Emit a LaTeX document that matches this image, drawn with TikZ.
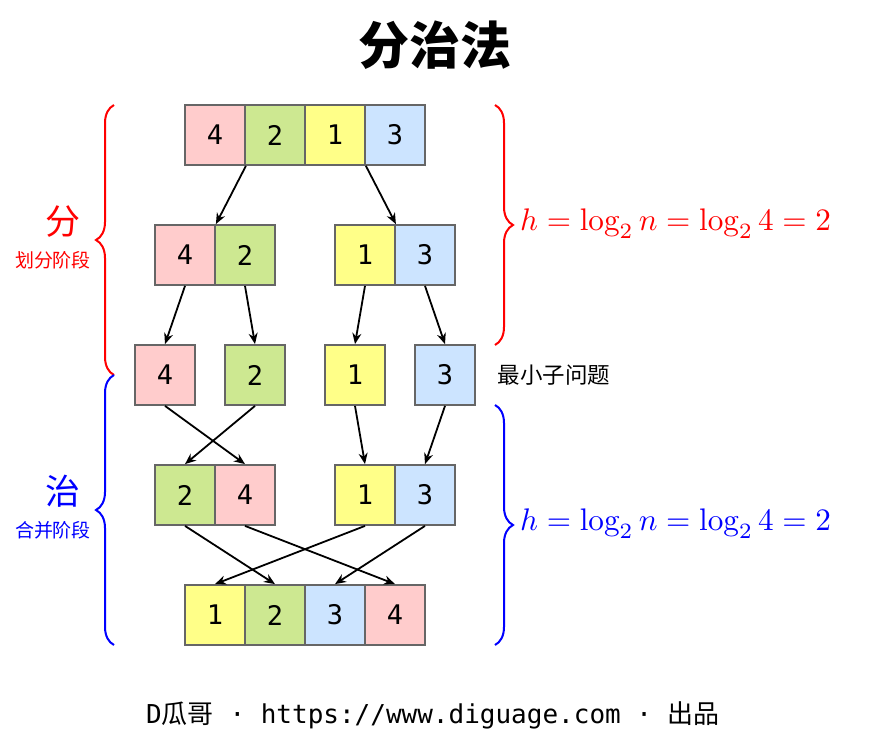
\documentclass[tikz,border=0pt]{standalone}
\usepackage{fontspec}
\newfontfamily\cjk{Noto Sans CJK SC}
\newfontfamily\mono{DejaVu Sans Mono}
\usetikzlibrary{arrows.meta,decorations.pathreplacing}

\definecolor{cellred}{RGB}{255,204,204}
\definecolor{cellgreen}{RGB}{205,232,145}
\definecolor{cellyellow}{RGB}{255,255,136}
\definecolor{cellblue}{RGB}{204,228,255}
\definecolor{cellborder}{RGB}{102,102,102}

\tikzset{
  cell/.style={draw=cellborder, line width=1.8pt, minimum size=60pt, inner sep=0pt,
    font=\fontsize{27}{30}\selectfont\mono},
  link/.style={-{Stealth[length=11pt,width=9pt]}, line width=1.8pt},
  bracket/.style={decorate, decoration={brace, amplitude=18pt}, line width=2pt},
}

\begin{document}
\begin{tikzpicture}[x=1pt, y=-1pt]
  \useasboundingbox (0,0) rectangle (870,745);

  % Title
  \node[font=\fontsize{51}{55}\selectfont\cjk\bfseries] (title) at (435,45) {分治法};

  % Rows of cells
  \foreach \x/\v/\c [count=\i] in {215/4/cellred, 275/2/cellgreen, 335/1/cellyellow, 395/3/cellblue}
    \node[cell, fill=\c] (a\i) at (\x,135) {\v};
  \foreach \x/\v/\c [count=\i] in {185/4/cellred, 245/2/cellgreen, 365/1/cellyellow, 425/3/cellblue}
    \node[cell, fill=\c] (b\i) at (\x,255) {\v};
  \foreach \x/\v/\c [count=\i] in {165/4/cellred, 255/2/cellgreen, 355/1/cellyellow, 445/3/cellblue}
    \node[cell, fill=\c] (c\i) at (\x,375) {\v};
  \foreach \x/\v/\c [count=\i] in {185/2/cellgreen, 245/4/cellred, 365/1/cellyellow, 425/3/cellblue}
    \node[cell, fill=\c] (d\i) at (\x,495) {\v};
  \foreach \x/\v/\c [count=\i] in {215/1/cellyellow, 275/2/cellgreen, 335/3/cellblue, 395/4/cellred}
    \node[cell, fill=\c] (e\i) at (\x,615) {\v};

  % Divide
  \draw[link] (a1.south east) -- (b1.north east);
  \draw[link] (a3.south east) -- (b3.north east);
  \draw[link] (b1.south) -- (c1.north);
  \draw[link] (b2.south) -- (c2.north);
  \draw[link] (b3.south) -- (c3.north);
  \draw[link] (b4.south) -- (c4.north);

  % Merge
  \draw[link] (c1.south) -- (d2.north);
  \draw[link] (c2.south) -- (d1.north);
  \draw[link] (c3.south) -- (d3.north);
  \draw[link] (c4.south) -- (d4.north);
  \draw[link] (d1.south) -- (e2.north);
  \draw[link] (d2.south) -- (e4.north);
  \draw[link] (d3.south) -- (e1.north);
  \draw[link] (d4.south) -- (e3.north);

  % Braces
  \draw[bracket, red] (114,375) -- (114,105);
  \draw[bracket, blue] (114,645) -- (114,375);
  \draw[bracket, red] (495,105) -- (495,345);
  \draw[bracket, blue] (495,405) -- (495,645);

  % Phase labels
  \node[font=\fontsize{35}{38}\selectfont\cjk, red] (divhead) at (63,222) {分};
  \node[font=\fontsize{19}{22}\selectfont\cjk, red] (divsub) at (53,260) {划分阶段};
  \node[font=\fontsize{35}{38}\selectfont\cjk, blue] (mrghead) at (63,491) {治};
  \node[font=\fontsize{19}{22}\selectfont\cjk, blue] (mrgsub) at (53,530) {合并阶段};
  \node[font=\fontsize{22.5}{26}\selectfont\cjk, anchor=west] (base) at (494,375) {最小子问题};

  % Heights
  \node[red, anchor=west, inner sep=0pt] (hdiv) at (520,224) {\scalebox{3.12}{$h=\log_2 n=\log_2 4=2$}};
  \node[blue, anchor=west, inner sep=0pt] (hmrg) at (520,524) {\scalebox{3.12}{$h=\log_2 n=\log_2 4=2$}};

  % Footer
  \node[font=\fontsize{26}{30}\selectfont\mono] (footer) at (433,715)
    {D{\cjk 瓜哥} · https://www.diguage.com · {\cjk 出品}};
\end{tikzpicture}
\end{document}
